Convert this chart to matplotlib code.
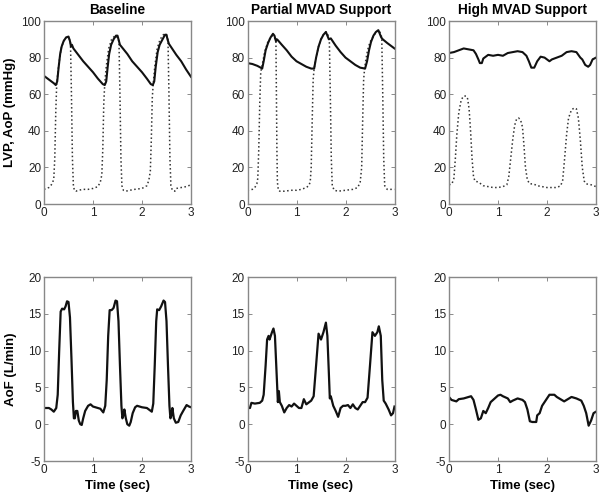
#!/usr/bin/env python
# LVP / AoP and AoF waveforms for three MVAD support levels

import numpy as np
import matplotlib
matplotlib.use('Agg')
import matplotlib.pyplot as plt

plt.rcParams['font.family'] = ['Liberation Sans', 'DejaVu Sans']
plt.rcParams['axes.unicode_minus'] = False

titles = ['Baseline', 'Partial MVAD Support', 'High MVAD Support']

# (time sec, pressure mmHg)
aop_base = [(0, 70), (0.1, 68), (0.2, 66), (0.24, 65), (0.27, 67), (0.3, 75), (0.33, 82),
            (0.36, 86), (0.4, 89), (0.45, 91), (0.5, 91.5), (0.53, 89), (0.55, 86), (0.57, 87),
            (0.6, 85), (0.7, 81.5), (0.8, 78), (0.9, 75), (1.0, 72), (1.1, 68.5), (1.2, 65.5),
            (1.24, 65), (1.27, 67), (1.3, 75), (1.33, 82), (1.37, 87), (1.42, 90), (1.47, 92),
            (1.5, 92), (1.53, 89), (1.55, 87), (1.58, 86), (1.7, 82), (1.8, 78), (1.9, 75),
            (2.0, 72), (2.1, 68.5), (2.18, 65.5), (2.22, 65), (2.25, 67), (2.28, 75), (2.32, 83),
            (2.36, 87), (2.42, 90), (2.47, 92.5), (2.5, 92.5), (2.52, 90), (2.55, 87.5),
            (2.6, 85.5), (2.7, 81.5), (2.8, 78), (2.9, 73.5), (3.0, 69.5)]
lvp_base = [(0, 8), (0.05, 8.5), (0.1, 9), (0.15, 10.5), (0.18, 12), (0.2, 14), (0.22, 25),
            (0.24, 50), (0.26, 66), (0.3, 76), (0.35, 85), (0.4, 89), (0.45, 91), (0.5, 91),
            (0.54, 89), (0.56, 60), (0.58, 25), (0.6, 10), (0.62, 7.5), (0.65, 7), (0.7, 7.5),
            (0.8, 8), (0.9, 8), (1.0, 8.5), (1.1, 9.5), (1.15, 12), (1.18, 16), (1.2, 30),
            (1.22, 55), (1.24, 66), (1.27, 75), (1.32, 85), (1.38, 90), (1.45, 92), (1.5, 91),
            (1.53, 89), (1.55, 60), (1.57, 25), (1.59, 10), (1.62, 7.5), (1.67, 7), (1.75, 7.5),
            (1.85, 8), (2.0, 8.5), (2.1, 10), (2.14, 13), (2.17, 18), (2.19, 35), (2.21, 58),
            (2.23, 66), (2.26, 75), (2.31, 85), (2.37, 90), (2.45, 93), (2.5, 92), (2.53, 90),
            (2.55, 60), (2.57, 25), (2.59, 10), (2.62, 7.5), (2.67, 7), (2.7, 8.5), (2.8, 9),
            (2.9, 9.5), (3.0, 10.5)]

aop_part = [(0, 77), (0.1, 76.5), (0.2, 75.5), (0.27, 74.5), (0.3, 74), (0.33, 78), (0.37, 84),
            (0.42, 88), (0.47, 91), (0.52, 93), (0.55, 92), (0.58, 89), (0.6, 90), (0.62, 89.5),
            (0.7, 87), (0.8, 84), (0.9, 80.5), (1.0, 78), (1.1, 76.5), (1.2, 75), (1.3, 74),
            (1.36, 74), (1.4, 80), (1.45, 86), (1.5, 90), (1.55, 92.5), (1.6, 94), (1.63, 92),
            (1.66, 90), (1.7, 90.5), (1.8, 86.5), (1.9, 83), (2.0, 80), (2.1, 78), (2.2, 76),
            (2.3, 74.5), (2.4, 74), (2.44, 78), (2.48, 84), (2.52, 88.5), (2.57, 92), (2.62, 94),
            (2.67, 95), (2.7, 93), (2.73, 91), (2.76, 90), (2.85, 88), (2.95, 86), (3.0, 85)]
lvp_part = [(0, 7.5), (0.1, 8), (0.15, 9), (0.19, 11), (0.21, 14), (0.23, 30), (0.25, 55),
            (0.27, 72), (0.3, 76), (0.35, 83), (0.42, 89), (0.5, 92), (0.55, 91), (0.58, 89),
            (0.59, 60), (0.6, 30), (0.61, 12), (0.63, 7.5), (0.66, 7), (0.75, 7), (0.9, 7.5),
            (1.0, 7.5), (1.1, 8), (1.2, 9), (1.25, 10), (1.28, 12), (1.3, 20), (1.32, 45),
            (1.34, 68), (1.36, 74), (1.4, 80), (1.45, 86), (1.5, 90), (1.55, 92.5), (1.6, 94),
            (1.65, 92), (1.67, 90), (1.69, 60), (1.71, 25), (1.73, 10), (1.77, 7.5), (1.85, 7),
            (2.0, 7.5), (2.15, 8), (2.25, 9), (2.3, 12), (2.33, 20), (2.35, 45), (2.37, 68),
            (2.39, 74), (2.41, 78), (2.45, 84), (2.5, 88.5), (2.6, 93), (2.68, 95), (2.72, 93),
            (2.74, 91), (2.76, 60), (2.78, 25), (2.8, 10), (2.85, 8), (2.95, 8), (3.0, 8)]

aop_high = [(0, 82.5), (0.1, 83), (0.2, 84), (0.3, 85), (0.4, 84.5), (0.5, 84), (0.55, 82),
            (0.6, 79), (0.63, 77), (0.67, 77), (0.7, 79.5), (0.8, 81.5), (0.9, 81), (1.0, 81.5),
            (1.1, 81), (1.2, 82.5), (1.3, 83), (1.4, 83.5), (1.5, 83), (1.58, 81), (1.63, 78),
            (1.68, 74.5), (1.74, 74.5), (1.8, 78), (1.87, 80.5), (1.95, 80), (2.05, 78),
            (2.1, 79), (2.2, 80), (2.3, 81), (2.4, 83), (2.5, 83.5), (2.6, 83), (2.68, 80),
            (2.72, 79), (2.78, 76), (2.84, 75), (2.88, 76), (2.93, 79), (3.0, 80)]
lvp_high = [(0, 10.5), (0.06, 11), (0.1, 14), (0.13, 25), (0.16, 38), (0.2, 50), (0.25, 57),
            (0.3, 59), (0.35, 59), (0.38, 57.5), (0.41, 52), (0.44, 40), (0.47, 25), (0.5, 15),
            (0.53, 12.5), (0.6, 12), (0.65, 11), (0.7, 10), (0.8, 9.5), (0.9, 9), (1.0, 9),
            (1.1, 9.5), (1.18, 10.5), (1.22, 15), (1.26, 25), (1.3, 35), (1.34, 43),
            (1.38, 46.5), (1.42, 47), (1.46, 46), (1.5, 42), (1.53, 32), (1.56, 20), (1.6, 13),
            (1.65, 11), (1.72, 11), (1.8, 10), (1.9, 9.5), (2.0, 9), (2.1, 9), (2.2, 9),
            (2.28, 10), (2.32, 13), (2.36, 25), (2.4, 38), (2.44, 47), (2.5, 51.5),
            (2.56, 52.5), (2.6, 52), (2.64, 47), (2.68, 35), (2.72, 20), (2.76, 12.5),
            (2.8, 11), (2.9, 10.5), (2.95, 10), (3.0, 9.5)]

# (time sec, flow L/min)
aof_base = [(0, 2.2), (0.1, 2.2), (0.15, 2.0), (0.2, 1.7), (0.25, 2.2), (0.28, 4), (0.31, 10),
            (0.34, 15.3), (0.37, 15.7), (0.41, 15.6), (0.44, 16), (0.47, 16.7), (0.5, 16.6),
            (0.53, 14.5), (0.56, 9), (0.59, 3), (0.61, 0.8), (0.63, 0.8), (0.65, 1.8),
            (0.68, 1.8), (0.71, 0.5), (0.74, 0), (0.77, -0.1), (0.8, 0.8), (0.84, 1.8),
            (0.9, 2.5), (0.95, 2.7), (1.0, 2.4), (1.1, 2.2), (1.15, 2.1), (1.21, 1.6),
            (1.25, 2.5), (1.28, 6), (1.31, 12), (1.34, 15.5), (1.38, 15.5), (1.42, 15.8),
            (1.46, 16.8), (1.49, 16.7), (1.52, 14), (1.55, 8), (1.58, 2.5), (1.6, 0.8),
            (1.62, 1.2), (1.64, 2.0), (1.67, 0.8), (1.7, 0), (1.74, -0.2), (1.77, 0.3),
            (1.81, 1.5), (1.86, 2.3), (1.9, 2.5), (2.0, 2.3), (2.1, 2.2), (2.2, 1.7),
            (2.23, 2.8), (2.26, 8), (2.29, 14), (2.31, 15.6), (2.35, 15.5), (2.39, 16),
            (2.44, 16.8), (2.47, 16.6), (2.5, 14), (2.53, 8), (2.56, 2.5), (2.58, 0.8),
            (2.6, 1.2), (2.62, 2.2), (2.65, 0.8), (2.69, 0.2), (2.74, 0.3), (2.79, 1.2),
            (2.84, 1.8), (2.91, 2.6), (2.96, 2.4), (3.0, 2.3)]
aof_part = [(0, 2.2), (0.05, 2.2), (0.08, 2.9), (0.15, 2.8), (0.25, 2.9), (0.3, 3.2),
            (0.33, 4), (0.37, 8), (0.4, 11.5), (0.43, 12), (0.45, 11.5), (0.5, 12.5),
            (0.53, 13), (0.56, 12), (0.6, 6), (0.62, 3), (0.64, 4.5), (0.66, 3), (0.7, 2.5),
            (0.75, 1.6), (0.8, 2.2), (0.85, 2.6), (0.9, 2.4), (0.95, 2.8), (1.0, 2.5),
            (1.05, 2.2), (1.1, 2.2), (1.15, 3.4), (1.2, 2.7), (1.3, 3.2), (1.35, 3.8),
            (1.4, 8), (1.45, 12.3), (1.5, 11.5), (1.55, 12.5), (1.6, 13.8), (1.63, 12),
            (1.66, 7), (1.68, 3.5), (1.7, 3.8), (1.75, 2.5), (1.8, 1.8), (1.85, 1),
            (1.9, 2.2), (1.95, 2.5), (2.0, 2.5), (2.05, 2.6), (2.1, 2.2), (2.15, 2.7),
            (2.2, 2.2), (2.25, 2.0), (2.3, 2.5), (2.35, 3.0), (2.4, 3.0), (2.45, 3.6),
            (2.5, 8), (2.55, 12.5), (2.6, 12), (2.65, 12.5), (2.68, 13.3), (2.72, 12),
            (2.75, 6), (2.78, 3.2), (2.82, 2.8), (2.88, 2.0), (2.93, 1.2), (2.97, 1.5),
            (3.0, 2.4)]
aof_high = [(0, 3.7), (0.05, 3.3), (0.1, 3.2), (0.15, 3.1), (0.2, 3.4), (0.3, 3.5),
            (0.4, 3.7), (0.45, 3.8), (0.5, 3.3), (0.55, 2.0), (0.6, 0.6), (0.65, 0.8),
            (0.7, 1.8), (0.75, 1.5), (0.8, 2.2), (0.85, 3.0), (0.9, 3.3), (1.0, 3.9),
            (1.05, 4.0), (1.1, 3.8), (1.2, 3.5), (1.25, 3.0), (1.3, 3.2), (1.4, 3.5),
            (1.5, 3.3), (1.55, 3.0), (1.6, 2.0), (1.65, 0.4), (1.7, 0.3), (1.78, 0.3),
            (1.8, 1.2), (1.85, 1.5), (1.9, 2.5), (1.95, 3.0), (2.0, 3.5), (2.05, 4.0),
            (2.15, 4.0), (2.2, 3.7), (2.3, 3.3), (2.35, 3.1), (2.4, 3.3), (2.5, 3.7),
            (2.6, 3.5), (2.7, 3.2), (2.75, 2.5), (2.8, 1.5), (2.85, -0.2), (2.9, 0.5),
            (2.95, 1.5), (3.0, 1.7)]

pressure = [(aop_base, lvp_base), (aop_part, lvp_part), (aop_high, lvp_high)]
flow = [aof_base, aof_part, aof_high]

W, H = 601, 496
fig = plt.figure(figsize=(W/100., H/100.), dpi=100)

lefts = [44, 247.5, 449]
aw = 147

def style(ax, ylim, yticks):
    ax.set_xlim(0, 3)
    ax.set_ylim(*ylim)
    ax.set_xticks([0, 1, 2, 3])
    ax.set_yticks(yticks)
    ax.tick_params(direction='in', length=3, width=0.6, top=True, right=True,
                   labelsize=8.5, labelcolor='#222222', color='#777777', pad=2)
    for sp in ax.spines.values():
        sp.set_color('#888888')
        sp.set_linewidth(1.0)

for i in range(3):
    # top row: pressures
    ax = fig.add_axes([lefts[i]/W, 1-204./H, aw/W, 183./H])
    aop, lvp = pressure[i]
    a = np.array(aop)
    l = np.array(lvp)
    ax.plot(l[:, 0], l[:, 1], ls=':', lw=1.1, color='#333333')
    ax.plot(a[:, 0], a[:, 1], ls='-', lw=1.5, color='#111111')
    style(ax, (0, 100), [0, 20, 40, 60, 80, 100])
    ax.set_title(titles[i], fontsize=9.8, fontweight='bold', pad=5)
    if i == 0:
        ax.set_ylabel('LVP, AoP (mmHg)', fontsize=9.5, fontweight='bold')

    # bottom row: aortic flow
    ax2 = fig.add_axes([lefts[i]/W, 1-461./H, aw/W, 184./H])
    f = np.array(flow[i])
    ax2.plot(f[:, 0], f[:, 1], ls='-', lw=1.6, color='#111111')
    style(ax2, (-5, 20), [-5, 0, 5, 10, 15, 20])
    ax2.set_xlabel('Time (sec)', fontsize=9.5, fontweight='bold', labelpad=3)
    if i == 0:
        ax2.set_ylabel('AoF (L/min)', fontsize=9.5, fontweight='bold', labelpad=8)

fig.savefig('out.png', dpi=100)
